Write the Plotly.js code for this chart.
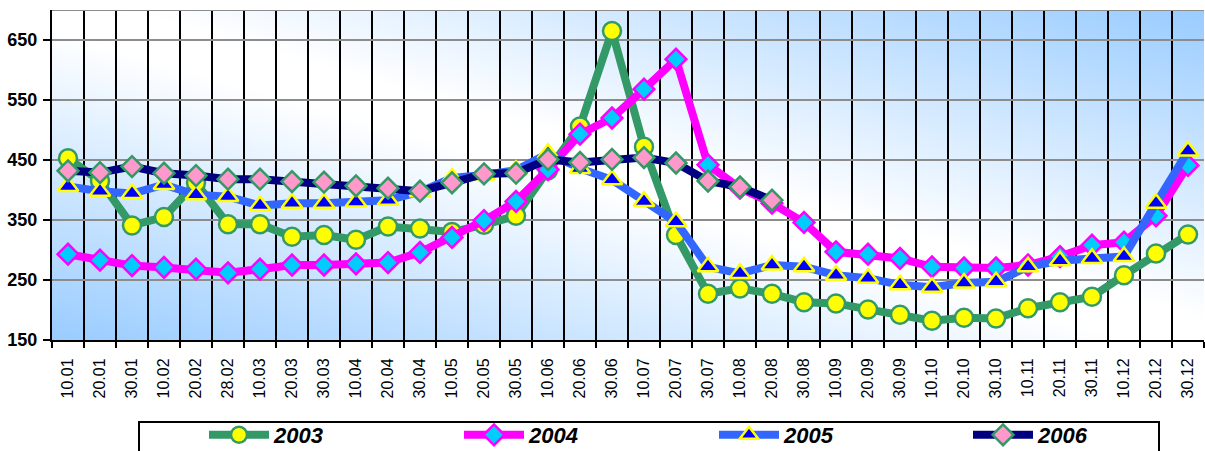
<!DOCTYPE html>
<html>
<head>
<meta charset="utf-8">
<script src="https://cdn.plot.ly/plotly-3.0.1.min.js"></script>
<style>
  html, body { margin: 0; padding: 0; background: #ffffff; }
  #chart { width: 1205px; height: 451px; }
</style>
</head>
<body>
<div id="chart"></div>
<script>
// ---- data ----
const categories = ['10.01','20.01','30.01','10.02','20.02','28.02','10.03','20.03','30.03','10.04','20.04','30.04',
  '10.05','20.05','30.05','10.06','20.06','30.06','10.07','20.07','30.07','10.08','20.08','30.08',
  '10.09','20.09','30.09','10.10','20.10','30.10','10.11','20.11','30.11','10.12','20.12','30.12'];

const y2003 = [453, 415, 341, 355, 412, 343, 343, 322, 325, 317, 339, 336,
  330, 342, 357, 433, 506, 665, 472, 325, 227, 236, 227, 213,
  211, 201, 192, 182, 187, 186, 203, 213, 222, 258, 294, 326];

const y2004 = [293, 283, 274, 271, 268, 262, 268, 275, 275, 277, 279, 296,
  321, 349, 381, 434, 493, 520, 568, 618, 442, 403, 378, 346,
  297, 293, 286, 272, 270, 270, 275, 289, 308, 313, 357, 441];

const y2005 = [406, 398, 394, 409, 392, 389, 374, 378, 378, 380, 383, 397,
  420, 425, 433, 461, 436, 417, 381, 347, 272, 261, 275, 272,
  258, 253, 242, 238, 245, 247, 272, 282, 286, 289, 378, 465];

const y2006 = [432, 429, 439, 428, 424, 418, 418, 414, 413, 407, 403, 398,
  412, 427, 428, 451, 446, 451, 454, 445, 415, 405, 383];

const seriesNames = ['2003', '2004', '2005', '2006'];
const yTickVals = [150, 250, 350, 450, 550, 650];

// ---- geometry ----
const W = 1205, H = 451, L = 52, R = 1, T = 10, B = 111;
const pw = W - L - R, ph = H - T - B;
const px = v => (v - L) / pw;
const py = v => (H - B - v) / ph;

// ---- traces ----
const legendIds = ['legend', 'legend2', 'legend3', 'legend4'];
function mk(i, y, lineColor, sym, fill, outline) {
  return {
    type: 'scatter', mode: 'lines+markers', name: seriesNames[i], legend: legendIds[i],
    x: categories.slice(0, y.length), y: y,
    line: { color: lineColor, width: 8 },
    marker: { symbol: sym, size: sym === 'diamond' ? 16 : 18, color: fill,
              line: { color: outline, width: 2.5 } },
    cliponaxis: false
  };
}
const traces = [
  mk(0, y2003, '#339966', 'circle', '#FFFF00', '#339966'),
  mk(1, y2004, '#FF00FF', 'diamond', '#00CCFF', '#FF00FF'),
  mk(2, y2005, '#3366FF', 'triangle-up', '#0000FF', '#FFFF00'),
  mk(3, y2006, '#000080', 'diamond', '#FF99CC', '#339966')
];

const svgBg = '<svg xmlns="http://www.w3.org/2000/svg" width="100" height="100" preserveAspectRatio="none">' +
  '<defs><linearGradient id="g" x1="0" y1="1" x2="1" y2="0">' +
  '<stop offset="0" stop-color="#99CCFF"/>' +
  '<stop offset="0.47" stop-color="#FFFFFF"/>' +
  '<stop offset="0.53" stop-color="#FFFFFF"/>' +
  '<stop offset="1" stop-color="#99CCFF"/>' +
  '</linearGradient></defs><rect width="100" height="100" fill="url(#g)"/></svg>';

const legendX = [204, 459, 714, 968];
function mkLegend(xpix) {
  return {
    orientation: 'h', x: px(xpix), xanchor: 'left', y: py(414), yanchor: 'top',
    font: { family: 'Arial, Liberation Sans, sans-serif', size: 22, weight: 'bold', style: 'italic', color: '#000' },
    bgcolor: 'rgba(0,0,0,0)', borderwidth: 0, itemwidth: 60
  };
}

const layout = {
  width: W, height: H,
  margin: { l: L, r: R, t: T, b: B, pad: 0, autoexpand: false },
  paper_bgcolor: '#FFFFFF',
  plot_bgcolor: 'rgba(0,0,0,0)',
  font: { family: 'Arial, Liberation Sans, sans-serif', color: '#000000' },
  showlegend: true,
  legend: mkLegend(legendX[0]),
  legend2: mkLegend(legendX[1]),
  legend3: mkLegend(legendX[2]),
  legend4: mkLegend(legendX[3]),
  xaxis: {
    type: 'category', categoryorder: 'array', categoryarray: categories,
    range: [-0.5, categories.length - 0.5],
    tickson: 'boundaries', showgrid: true, gridcolor: '#000000', gridwidth: 2,
    ticks: 'outside', ticklen: 6, tickwidth: 2, tickcolor: '#000000',
    showline: true, linecolor: '#000000', linewidth: 2,
    tickangle: -90, ticklabelstandoff: 10,
    tickfont: { family: 'Arial, Liberation Sans, sans-serif', size: 16, color: '#000' },
    automargin: false, zeroline: false, fixedrange: true
  },
  yaxis: {
    range: [150, 700], tickmode: 'array', tickvals: yTickVals, ticktext: yTickVals.map(String),
    showgrid: true, gridcolor: '#8C8C8C', gridwidth: 2,
    ticks: 'outside', ticklen: 7, tickwidth: 2, tickcolor: '#000000',
    showline: true, linecolor: '#000000', linewidth: 2,
    ticklabelstandoff: 2,
    tickfont: { family: 'Arial, Liberation Sans, sans-serif', size: 18, weight: 'bold', color: '#000' },
    automargin: false, zeroline: false, fixedrange: true
  },
  images: [{
    source: 'data:image/svg+xml;charset=utf-8,' + encodeURIComponent(svgBg),
    xref: 'paper', yref: 'paper', x: 0, y: 1, sizex: 1, sizey: 1,
    xanchor: 'left', yanchor: 'top', sizing: 'stretch', layer: 'below'
  }],
  shapes: [
    { type: 'line', xref: 'paper', yref: 'y', x0: 0, x1: 1, y0: 700, y1: 700,
      line: { color: '#8C8C8C', width: 2 }, layer: 'above' },
    { type: 'rect', xref: 'paper', yref: 'paper', x0: px(139), x1: px(1159), y0: py(422), y1: py(470),
      line: { color: '#000000', width: 2 }, fillcolor: 'rgba(0,0,0,0)' }
  ]
};

Plotly.newPlot('chart', traces, layout, { displayModeBar: false, staticPlot: true });
</script>
</body>
</html>
